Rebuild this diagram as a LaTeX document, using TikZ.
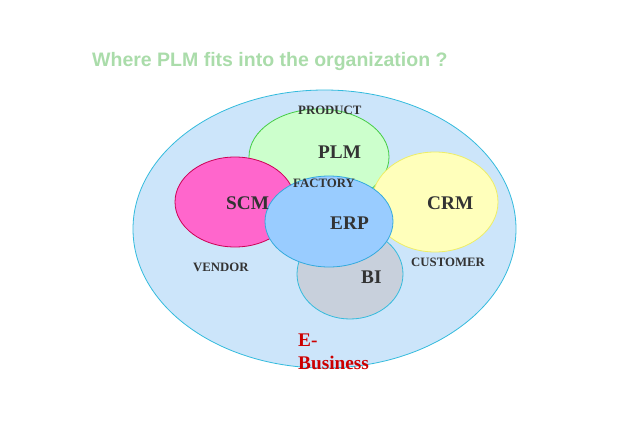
\documentclass[tikz,border=0pt]{standalone}
\usepackage{fontspec}
\setmainfont{Liberation Serif}
\newfontfamily\titlefont{Liberation Sans}
\usetikzlibrary{shapes.geometric}
\definecolor{bigfill}{HTML}{CCE5FA}
\definecolor{bigline}{HTML}{33BBDD}
\definecolor{plmfill}{HTML}{CCFFCC}
\definecolor{plmline}{HTML}{44CC44}
\definecolor{scmfill}{HTML}{FF66CC}
\definecolor{scmline}{HTML}{CC0055}
\definecolor{crmfill}{HTML}{FFFFBB}
\definecolor{crmline}{HTML}{EEEE66}
\definecolor{erpfill}{HTML}{99CCFF}
\definecolor{erpline}{HTML}{33AADD}
\definecolor{bifill}{HTML}{C8D0DC}
\definecolor{biline}{HTML}{33BBDD}
\definecolor{labeltext}{HTML}{333333}
\definecolor{titlegreen}{HTML}{AADCAA}
\definecolor{ebred}{HTML}{CC0000}
\tikzset{
  blob/.style={ellipse, inner sep=0pt, line width=0.8pt},
  biglabel/.style={anchor=base west, inner sep=0pt, font=\fontsize{19.3}{22}\selectfont\bfseries, text=labeltext},
  smalllabel/.style={anchor=base west, inner sep=0pt, font=\fontsize{12.8}{14}\selectfont\bfseries, text=labeltext},
}
\begin{document}
\begin{tikzpicture}[x=1pt,y=-1pt]
\useasboundingbox (0,0) rectangle (638,442);
\node[anchor=base west, inner sep=0pt, font=\titlefont\fontsize{19.5}{22}\selectfont\bfseries, text=titlegreen] (title) at (92,66) {Where PLM fits into the organization ?};
\node[blob, fill=bigfill, draw=bigline, minimum width=383pt, minimum height=278pt] (big) at (324.5,229) {};
\node[blob, fill=plmfill, draw=plmline, minimum width=140pt, minimum height=96pt] (plm) at (319,157) {};
\node[blob, fill=scmfill, draw=scmline, minimum width=120pt, minimum height=90pt] (scm) at (235,202) {};
\node[blob, fill=crmfill, draw=crmline, minimum width=126pt, minimum height=100pt] (crm) at (435,202) {};
\node[blob, fill=bifill, draw=biline, minimum width=106pt, minimum height=90pt] (bi) at (350,274) {};
\node[blob, fill=erpfill, draw=erpline, minimum width=128pt, minimum height=91pt] (erp) at (329,221.5) {};
\node[smalllabel] (product) at (298,114) {PRODUCT};
\node[biglabel] (plmt) at (318,158) {PLM};
\node[smalllabel] (factory) at (293,187) {FACTORY};
\node[biglabel] (scmt) at (226,209) {SCM};
\node[biglabel] (crmt) at (427,209) {CRM};
\node[biglabel] (erpt) at (330,229) {ERP};
\node[smalllabel] (customer) at (411,266) {CUSTOMER};
\node[smalllabel] (vendor) at (193,271) {VENDOR};
\node[biglabel] (bit) at (361,283) {BI};
\node[biglabel, text=ebred] (e1) at (298,346) {E-};
\node[biglabel, text=ebred] (e2) at (298,369) {Business};
\end{tikzpicture}
\end{document}
